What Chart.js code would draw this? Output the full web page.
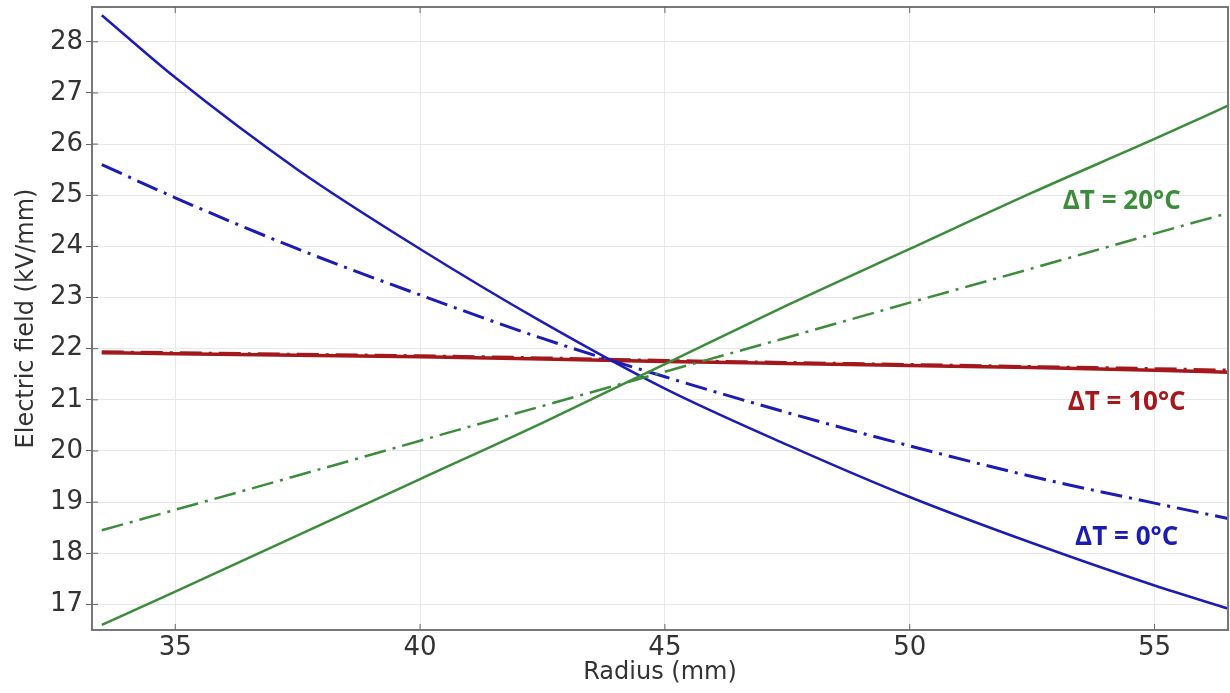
<!DOCTYPE html>
<html>
<head>
<meta charset="utf-8">
<script src="https://cdn.jsdelivr.net/npm/chart.js@4.4.1/dist/chart.umd.min.js"></script>
<style>
  html, body { margin: 0; padding: 0; background: #ffffff; }
  #wrap { width: 1230px; height: 693px; position: relative; }
</style>
</head>
<body>
<div id="wrap"><canvas id="c" width="1230" height="693"></canvas></div>
<script>
// Radius (mm) sample positions
const radius = [33.5, 35, 37.5, 40, 42.5, 45, 47.5, 50, 52.5, 55, 56.5];

// Electric field (kV/mm)
const dT0_solid    = [28.52, 27.30, 25.50, 23.95, 22.52, 21.22, 20.12, 19.10, 18.20, 17.37, 16.92];
const dT0_dashdot  = [25.60, 24.95, 23.95, 23.05, 22.20, 21.45, 20.75, 20.10, 19.50, 18.98, 18.68];
const dT10_solid   = [21.92, 21.90, 21.87, 21.84, 21.80, 21.75, 21.71, 21.67, 21.63, 21.58, 21.54];
const dT10_dashdot = [21.94, 21.92, 21.89, 21.86, 21.82, 21.77, 21.73, 21.69, 21.65, 21.61, 21.58];
const dT20_solid   = [16.60, 17.25, 18.35, 19.45, 20.55, 21.70, 22.85, 23.95, 25.05, 26.10, 26.75];
const dT20_dashdot = [18.45, 18.85, 19.52, 20.20, 20.88, 21.55, 22.22, 22.90, 23.57, 24.25, 24.65];

const xTicks = [35, 40, 45, 50, 55];
const yTicks = [17, 18, 19, 20, 21, 22, 23, 24, 25, 26, 27, 28];

const labels = ["ΔT = 20°C", "ΔT = 10°C", "ΔT = 0°C"];

const BLUE = "#1c1cb4";
const RED = "#a4181c";
const GREEN = "#3c8c3c";
const DASHDOT = [22, 7, 3, 7];
const FONT = '"DejaVu Sans", "Open Sans", sans-serif';

function pts(ys) { return radius.map((r, i) => ({ x: r, y: ys[i] })); }

function ds(ys, color, dash, width) {
  return {
    data: pts(ys),
    borderColor: color,
    borderWidth: width,
    borderDash: dash,
    pointRadius: 0,
    showLine: true,
    tension: 0.4,
    cubicInterpolationMode: 'monotone',
    fill: false
  };
}

const boxPlugin = {
  id: 'box',
  afterDraw(chart) {
    const { ctx, chartArea: a, scales } = chart;
    ctx.save();
    ctx.strokeStyle = '#777';
    ctx.lineWidth = 2;
    ctx.strokeRect(a.left, a.top, a.right - a.left, a.bottom - a.top);
    ctx.lineWidth = 1;
    ctx.strokeStyle = '#666';
    xTicks.forEach(v => {
      const x = scales.x.getPixelForValue(v);
      ctx.beginPath(); ctx.moveTo(x, a.bottom); ctx.lineTo(x, a.bottom - 6); ctx.stroke();
      ctx.beginPath(); ctx.moveTo(x, a.top); ctx.lineTo(x, a.top + 6); ctx.stroke();
    });
    yTicks.forEach(v => {
      const y = scales.y.getPixelForValue(v);
      ctx.beginPath(); ctx.moveTo(a.left, y); ctx.lineTo(a.left + 6, y); ctx.stroke();
    });
    ctx.font = 'bold 26px "Open Sans", "Liberation Sans", sans-serif';
    ctx.textAlign = 'center';
    ctx.textBaseline = 'middle';
    const place = [
      [labels[0], GREEN, 54.33, 24.87],
      [labels[1], RED, 54.43, 20.94],
      [labels[2], BLUE, 54.43, 18.31]
    ];
    place.forEach(([t, c, xv, yv]) => {
      ctx.fillStyle = c;
      ctx.fillText(t, scales.x.getPixelForValue(xv), scales.y.getPixelForValue(yv));
    });
    ctx.restore();
  }
};

new Chart(document.getElementById('c'), {
  type: 'scatter',
  data: {
    datasets: [
      ds(dT20_solid, GREEN, [], 2.5),
      ds(dT20_dashdot, GREEN, DASHDOT, 2.5),
      ds(dT0_solid, BLUE, [], 2.5),
      ds(dT0_dashdot, BLUE, DASHDOT, 3),
      ds(dT10_solid, RED, [], 3.5),
      ds(dT10_dashdot, RED, DASHDOT, 3)
    ]
  },
  plugins: [boxPlugin],
  options: {
    responsive: false,
    animation: false,
    devicePixelRatio: 1,
    layout: { padding: { top: 7, right: 2, left: 0, bottom: 0 } },
    plugins: { legend: { display: false }, tooltip: { enabled: false } },
    scales: {
      x: {
        type: 'linear',
        min: 33.3,
        max: 56.5,
        afterBuildTicks: s => { s.ticks = xTicks.map(v => ({ value: v })); },
        afterFit: s => { s.height = 63; s.paddingLeft = 0; s.paddingRight = 0; },
        grid: { color: '#e8e8e8', lineWidth: 1, drawTicks: false },
        border: { display: false },
        ticks: {
          color: '#333',
          padding: 3,
          font: { family: FONT, size: 26 },
          maxRotation: 0
        },
        title: {
          display: true,
          text: 'Radius (mm)',
          color: '#333',
          font: { family: FONT, size: 24 },
          padding: { top: 0, bottom: 6 }
        }
      },
      y: {
        type: 'linear',
        min: 16.5,
        max: 28.68,
        afterBuildTicks: s => { s.ticks = yTicks.map(v => ({ value: v })); },
        afterFit: s => { s.width = 92; s.paddingTop = 0; s.paddingBottom = 0; },
        grid: { color: '#e8e8e8', lineWidth: 1, drawTicks: true, tickLength: 6, tickColor: '#666' },
        border: { display: false },
        ticks: {
          color: '#333',
          padding: 3,
          font: { family: FONT, size: 26 }
        },
        title: {
          display: true,
          text: 'Electric field (kV/mm)',
          color: '#333',
          font: { family: FONT, size: 24 },
          padding: { top: 12, bottom: 0 }
        }
      }
    }
  }
});
</script>
</body>
</html>
